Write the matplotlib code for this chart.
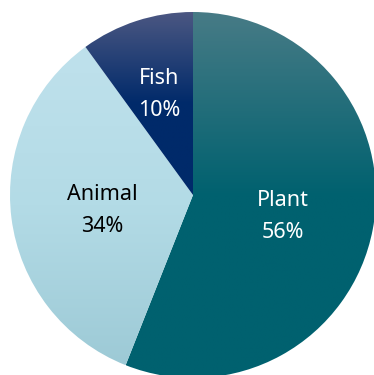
import numpy as np
import matplotlib.pyplot as plt
from matplotlib.colors import LinearSegmentedColormap

labels = ['Plant', 'Animal', 'Fish']
values = [56, 34, 10]
text_colors = ['white', 'black', 'white']
label_dist = [0.5, 0.5, 0.6]
# gradient stops top -> bottom for each slice
grad_colors = [
    ['#477b86', '#00616f', '#00616f'],
    ['#bfe1ec', '#b3dbe6', '#9dcad6'],
    ['#4b5782', '#002a6a', '#002a6a'],
]

W, H = 374, 375
fig = plt.figure(figsize=(W / 100, H / 100), dpi=100)
ax = fig.add_axes([0, 0, 1, 1])

cx, cy, r = 193, H - 195, 183
wedges, _ = ax.pie(values, startangle=90, counterclock=False, center=(cx, cy),
                   radius=r, frame=True, wedgeprops=dict(linewidth=0))
ax.set_xlim(0, W)
ax.set_ylim(0, H)
ax.set_aspect('equal')
ax.axis('off')

for w, stops, lab, val, tc, d in zip(wedges, grad_colors, labels, values,
                                      text_colors, label_dist):
    verts = w.get_path().vertices
    y0, y1 = verts[:, 1].min(), verts[:, 1].max()
    x0, x1 = verts[:, 0].min(), verts[:, 0].max()
    cmap = LinearSegmentedColormap.from_list(lab, stops)
    grad = np.linspace(0, 1, 256).reshape(-1, 1)
    w.set_facecolor('none')
    img = ax.imshow(grad, cmap=cmap, extent=(x0, x1, y0, y1), origin='upper',
                    aspect='auto', interpolation='bilinear', zorder=1)
    img.set_clip_path(w)

    ang = np.deg2rad((w.theta1 + w.theta2) / 2)
    tx = cx + d * r * np.cos(ang)
    ty = cy + d * r * np.sin(ang) - 4
    ax.text(tx, ty, f'{lab}\n{val}%', ha='center', va='center', color=tc,
            fontsize=15.5, family='Noto Sans', linespacing=1.7, zorder=3)

ax.set_xlim(0, W)
ax.set_ylim(0, H)
fig.savefig('out.png', dpi=100)
